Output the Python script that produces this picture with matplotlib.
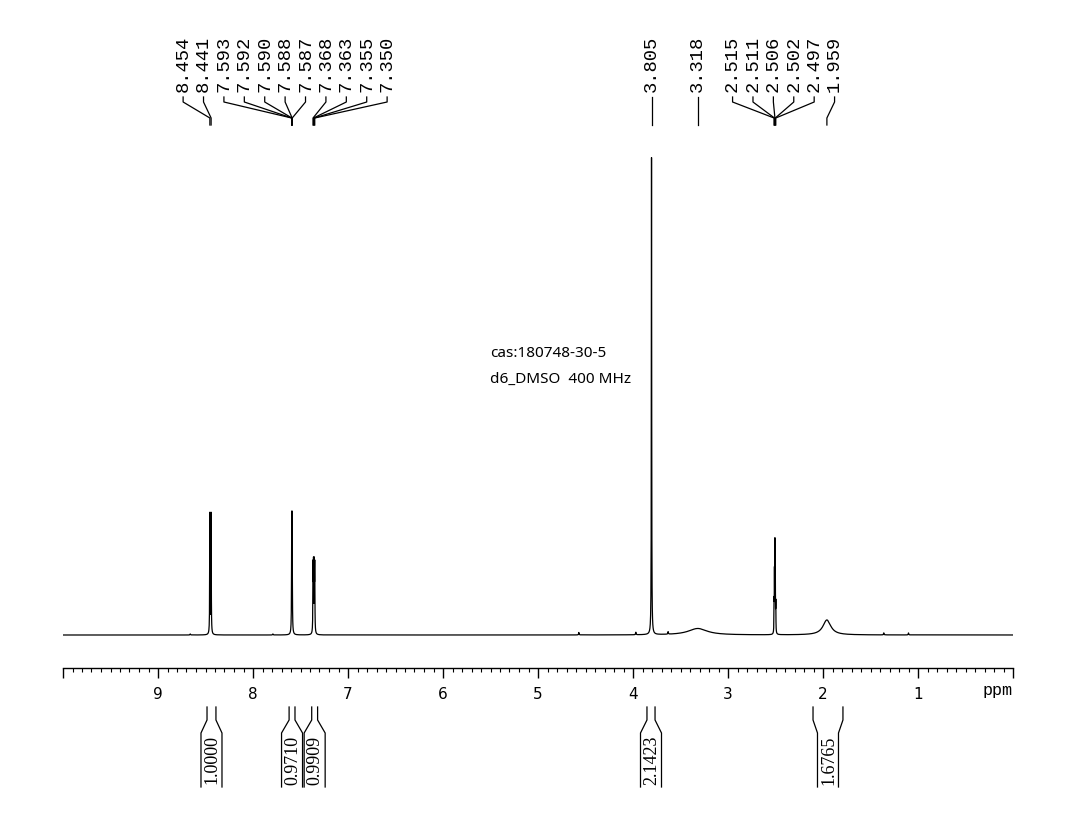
import numpy as np
import matplotlib
matplotlib.use("Agg")
import matplotlib.pyplot as plt
from matplotlib.lines import Line2D

# ---------------- data ----------------
peak_ppm = [8.454, 8.441,
            7.593, 7.592, 7.590, 7.588, 7.587,
            7.368, 7.363, 7.355, 7.350,
            3.805, 3.318,
            2.515, 2.511, 2.506, 2.502, 2.497,
            1.959,
            4.570, 3.970, 3.630, 1.360, 1.100, 8.660, 7.790]
peak_height = [120, 120,
               44, 44, 53, 44, 44,
               64, 64, 64, 64,
               477, 6.5,
               28, 56, 84, 56, 28,
               15,
               2.5, 2.5, 2.5, 2.0, 2.0, 1.0, 1.0]
peak_hwhm = [0.002, 0.002,
             0.002, 0.002, 0.002, 0.002, 0.002,
             0.002, 0.002, 0.002, 0.002,
             0.002, 0.12,
             0.0015, 0.0015, 0.0015, 0.0015, 0.0015,
             0.05,
             0.003, 0.003, 0.003, 0.003, 0.003, 0.003, 0.003]

label_ppm = [8.454, 8.441, 7.593, 7.592, 7.590, 7.588, 7.587,
             7.368, 7.363, 7.355, 7.350, 3.805, 3.318,
             2.515, 2.511, 2.506, 2.502, 2.497, 1.959]

integral_start = [8.484, 7.620, 7.382, 3.853, 2.105]
integral_end = [8.390, 7.558, 7.320, 3.768, 1.790]
integral_value = ["1.0000", "0.9710", "0.9909", "2.1423", "1.6765"]

major_ticks = [10, 9, 8, 7, 6, 5, 4, 3, 2, 1, 0]
major_labels = ["", "9", "8", "7", "6", "5", "4", "3", "2", "1", ""]
annotation_lines = ["cas:180748-30-5", "d6_DMSO  400 MHz"]

# ---------------- figure ----------------
W, H = 1070, 835
fig = plt.figure(figsize=(W / 100, H / 100), dpi=100)


def fp(x, y):
    """pixel (origin top-left) -> figure fraction"""
    return x / W, 1 - y / H


ax_left, ax_right = 63, 1013
ax_top, ax_bottom = 140, 668
ax = fig.add_axes([ax_left / W, 1 - ax_bottom / H,
                   (ax_right - ax_left) / W, (ax_bottom - ax_top) / H])

x = np.linspace(0, 10, 40001)
y = np.zeros_like(x)
for p, h, w in zip(peak_ppm, peak_height, peak_hwhm):
    y += h / (1 + ((x - p) / w) ** 2)
ax.plot(x, y, color="black", lw=0.9)

ax.set_xlim(10, 0)
ax.set_ylim(-33, 495)
for s in ["top", "left", "right"]:
    ax.spines[s].set_visible(False)
ax.spines["bottom"].set_linewidth(1.0)
ax.set_yticks([])
ax.set_xticks(major_ticks)
ax.set_xticklabels(major_labels, fontsize=11, family="DejaVu Sans")
ax.set_xticks(np.arange(0, 10.0001, 0.1), minor=True)
ax.tick_params(axis="x", which="major", length=7.5, width=1.0, pad=6)
ax.tick_params(axis="x", which="minor", length=3, width=0.8)

fig.text(*fp(1013, 691), "ppm", ha="right", va="center",
         fontsize=12, family="Liberation Mono")

for i, t in enumerate(annotation_lines):
    fig.text(*fp(490, 353 + 26 * i), t, ha="left", va="center",
             fontsize=11, family=["Noto Sans", "DejaVu Sans"])

fig.canvas.draw()


def to_px(ppm):
    return ax.transData.transform((ppm, 0))[0]


# ---------------- peak labels ----------------
spacing = 20.4
peak_px = [to_px(p) for p in label_ppm]
clusters = [[i] for i in range(len(peak_px))]
changed = True
while changed:
    changed = False
    pos = []
    for c in clusters:
        cen = np.mean([peak_px[i] for i in c])
        n = len(c)
        pos.append([cen + (k - (n - 1) / 2) * spacing for k in range(n)])
    for j in range(len(clusters) - 1):
        if pos[j + 1][0] - pos[j][-1] < spacing:
            clusters[j] = clusters[j] + clusters[j + 1]
            del clusters[j + 1]
            changed = True
            break
label_px = [None] * len(peak_px)
for c, ps in zip(clusters, pos):
    for i, p in zip(c, ps):
        label_px[i] = p

for lp, pp, txt in zip(label_px, peak_px, label_ppm):
    fig.text(*fp(lp, 92), f"{txt:.3f}", rotation=90, ha="center", va="bottom",
             fontsize=13.5, family="Liberation Mono")
    xs = [lp, lp, pp, pp]
    ys = [97, 102, 118, 125]
    fx, fy = zip(*[fp(a, b) for a, b in zip(xs, ys)])
    fig.add_artist(Line2D(fx, fy, color="black", lw=0.9))

# ---------------- integrals ----------------
half_box = 10.5
for s, e, v in zip(integral_start, integral_end, integral_value):
    a, b = to_px(s), to_px(e)
    c = (a + b) / 2
    for edge, box in [(a, c - half_box), (b, c + half_box)]:
        xs = [edge, edge, box, box]
        ys = [707, 720, 733, 787]
        fx, fy = zip(*[fp(p, q) for p, q in zip(xs, ys)])
        fig.add_artist(Line2D(fx, fy, color="black", lw=0.9))
    fig.text(*fp(c + 0.5, 760), v, rotation=90, ha="center", va="center",
             fontsize=13, family="Liberation Serif")

fig.savefig("out.png", dpi=100)
